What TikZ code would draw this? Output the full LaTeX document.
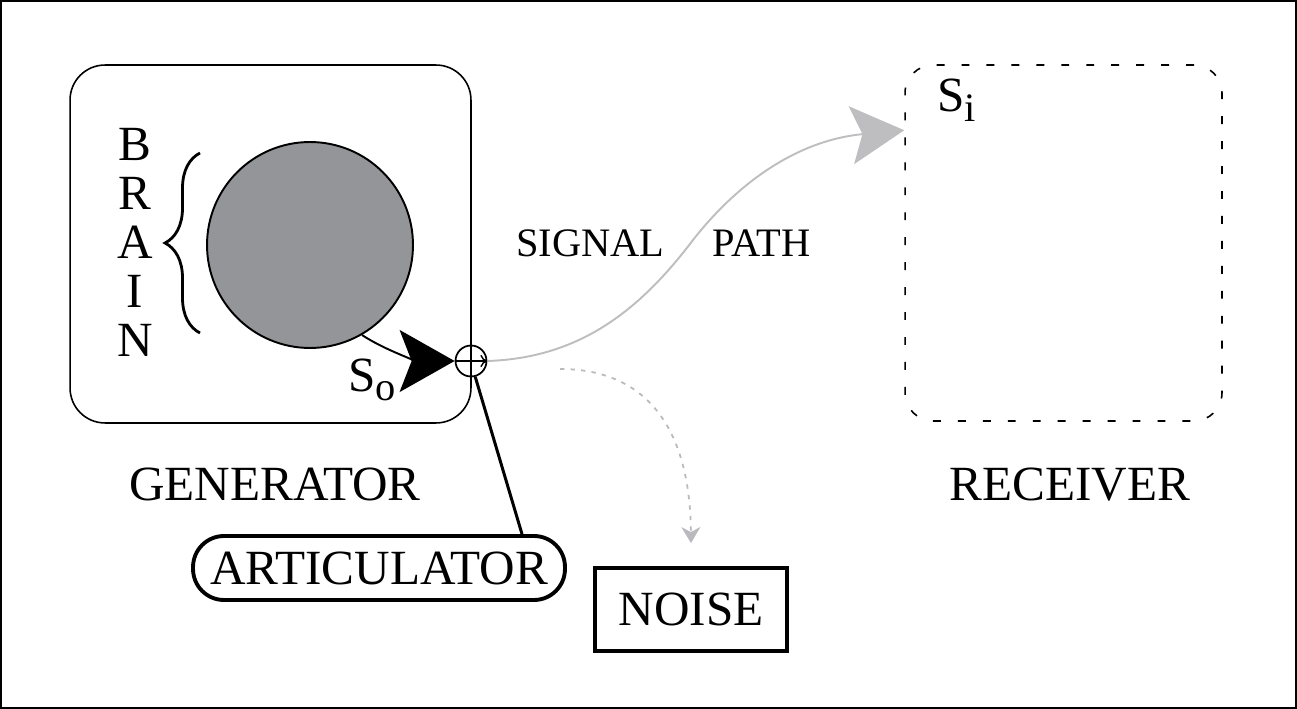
\documentclass[tikz,border=0pt]{standalone}
\usepackage{fontspec}
\setmainfont{Liberation Serif}
\usetikzlibrary{arrows.meta,decorations.pathreplacing,calc}
\definecolor{brainfill}{RGB}{147,149,152}
\definecolor{sigray}{RGB}{190,190,193}
\definecolor{noisegray}{RGB}{185,185,190}
\begin{document}
\begin{tikzpicture}[x=0.02cm,y=-0.02cm,
  big/.style={font=\fontsize{28}{30}\selectfont, inner sep=0pt},
  mid/.style={font=\fontsize{23}{25}\selectfont, inner sep=0pt},
  genbox/.style={draw, line width=0.9pt, rounded corners=0.7cm, minimum width=8.02cm, minimum height=7.16cm},
  recbox/.style={draw, line width=0.9pt, dash pattern=on 4.5pt off 9.7pt, rounded corners=0.56cm, minimum width=6.34cm, minimum height=7.12cm},
  brainc/.style={draw, circle, line width=1.1pt, fill=brainfill, minimum size=4.12cm, inner sep=0pt},
  junction/.style={draw, circle, line width=1pt, minimum size=0.62cm, inner sep=0pt},
  artbox/.style={big, draw, line width=2.2pt, rounded corners=0.62cm, minimum width=7.44cm, minimum height=1.28cm},
  noisebox/.style={big, draw, line width=2.2pt, minimum width=3.84cm, minimum height=1.66cm},
  sigline/.style={sigray, line width=1.1pt, -{Stealth[length=1.06cm,width=1.16cm,inset=0.22cm]}},
  noiseline/.style={noisegray, line width=1pt, dash pattern=on 2.5pt off 3.5pt, -{Stealth[length=0.32cm,width=0.38cm,inset=0.1cm]}},
  soarrow/.style={line width=1.1pt, -{Stealth[length=1.1cm,width=1.24cm,inset=0.24cm]}},
  bracestyle/.style={line width=1.6pt, decorate, decoration={brace, amplitude=0.7cm}}
]
\useasboundingbox (0,0) rectangle (1297,709);
\draw[line width=1.1pt] (1,1) rectangle (1296,708);

% generator
\node[genbox] (gen) at (270.5,244) {};
\node[brainc] (bc) at (310,245) {};
\node[big, align=center, font=\fontsize{28}{27.9}\selectfont] (brain) at (135,242) {B\\R\\A\\I\\N};
\draw[bracestyle] (200,333) -- (200,153);
\node[junction] (c) at (471,361) {};
\node[big, anchor=base west] (so) at (348,391) {S\raisebox{-0.2em}{\fontsize{23}{23}\selectfont o}};
\node[big, anchor=base] (genlab) at (275,500) {GENERATOR};

% receiver
\node[recbox] (rec) at (1063.5,243) {};
\node[big, anchor=base west] (si) at (937,112) {S\raisebox{-0.2em}{\fontsize{23}{23}\selectfont i}};
\node[big, anchor=base] (reclab) at (1070,500) {RECEIVER};

% signal path labels
\node[mid, anchor=base] (sig) at (590.5,257) {SIGNAL};
\node[mid, anchor=base] (path) at (761.5,257) {PATH};

% articulator and noise
\node[artbox] (art) at (379,568) {ARTICULATOR};
\node[noisebox] (noise) at (691,609.5) {NOISE};

% connectors
\draw[soarrow] (bc.-60) .. controls (388,352) and (420,361) .. (c.west);
\draw[line width=0.8pt, -{To[length=4pt,width=7pt]}] (c.west) -- (c.east);
\draw[line width=1.7pt] (c.-75) -- ($(art.north)+(143,0)$);
\draw[sigline] (c.east) .. controls (580,358) and (640,310) .. (693,240) .. controls (740,180) and (800,140) .. ($(rec.north west)+(0,66)$);
\coordinate (ns) at (560,369);
\draw[noiseline] (ns) .. controls (640,369) and (690,420) .. ($(noise.north)+(0,-23)$);
\end{tikzpicture}
\end{document}
